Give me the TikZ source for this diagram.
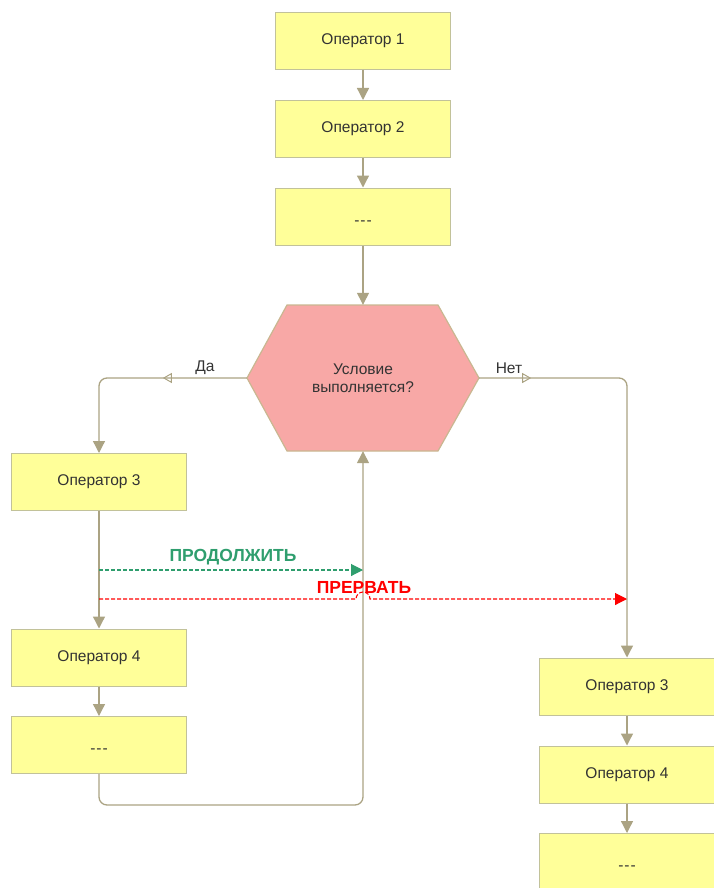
\documentclass[tikz,border=0pt]{standalone}
\usepackage{fontspec}
\setmainfont{Liberation Sans}
\usetikzlibrary{arrows.meta,decorations.markings,calc}
\definecolor{boxfill}{HTML}{FFFF99}
\definecolor{boxline}{HTML}{C2C29A}
\definecolor{lineclr}{HTML}{ABA383}
\definecolor{hexfill}{HTML}{F8A8A6}
\definecolor{hexline}{HTML}{C9B791}
\definecolor{txt}{HTML}{333333}
\definecolor{contclr}{HTML}{2F9E6E}
\definecolor{breakclr}{HTML}{FF0000}
\newcommand{\tripdash}{\raisebox{-8.5pt}[0pt][0pt]{-\kern1pt-\kern1pt-}}
\begin{document}
\begin{tikzpicture}[x=1pt,y=-1pt,
  box/.style={draw=boxline, line width=1pt, fill=boxfill, minimum width=175pt, minimum height=57pt, inner sep=0pt, font=\fontsize{15.5}{18}\selectfont, text=txt},
  conn/.style={draw=lineclr, line width=1.3pt, -{Triangle[length=12pt,width=12pt]}, rounded corners=8pt},
  openmark/.style={postaction={decorate, decoration={markings, mark=at position #1 with {\arrow[lineclr, line width=1pt]{Triangle[open, length=9pt, width=10pt]}}}}},
  lbl/.style={font=\fontsize{15.5}{18}\selectfont, text=txt},
  ctl/.style={font=\bfseries\fontsize{17.5}{20}\selectfont},
  ctlline/.style={line width=1.1pt, dash pattern=on 4pt off 2pt, -{Triangle[length=12pt,width=12pt]}}
]
\useasboundingbox (0,0) rectangle (714,888);
% hexagon
\fill[hexfill, draw=hexline, line width=1.2pt] (247,378) -- (287,305) -- (438,305) -- (479,378) -- (438,451) -- (287,451) -- cycle;
\node[lbl, align=center, minimum width=232pt, minimum height=146pt, inner sep=0pt] (hex) at (363,378) {Условие\\выполняется?};
% boxes
\node[box] (op1) at (363,41) {Оператор 1};
\node[box] (op2) at (363,129) {Оператор 2};
\node[box] (d1) at (363,216.5) {\tripdash};
\node[box] (op3L) at (99,482) {Оператор 3};
\node[box] (op4L) at (99,657.5) {Оператор 4};
\node[box] (dL) at (99,745) {\tripdash};
\node[box] (op3R) at (627,686.5) {Оператор 3};
\node[box] (op4R) at (627,774.5) {Оператор 4};
\node[box] (dR) at (627,862) {\tripdash};
% connectors
\draw[conn] (op1) -- (op2);
\draw[conn] (op2) -- (d1);
\draw[conn] (d1) -- (hex.north);
\draw[conn, openmark=84pt] (hex.west) -| (op3L.north);
\draw[conn, openmark=52pt] (hex.east) -| (op3R.north);
\draw[conn] (op3L) -- (op4L);
\draw[conn] (op4L) -- (dL);
\draw[conn] (dL.south) -- ++(0,31) -| (hex.south);
\draw[conn] (op3R) -- (op4R);
\draw[conn] (op4R) -- (dR);
\node[lbl] (da) at (205,368) {Да};
\node[lbl] (net) at (509,368) {Нет};
% control transfers
\coordinate (g1) at (99,570);
\coordinate (r1) at (99,599);
\draw[ctlline, contclr] (g1) -- (g1 -| hex.south);
\node[ctl, text=contclr] (cont) at (233,557) {ПРОДОЛЖИТЬ};
\draw[ctlline, breakclr] (r1) -- ($(r1 -| hex.south)+(-7,0)$) arc[start angle=180, end angle=0, radius=7pt] -- (r1 -| op3R.north);
\node[ctl, text=breakclr] (brk) at (364,587) {ПРЕРВАТЬ};
\end{tikzpicture}
\end{document}
